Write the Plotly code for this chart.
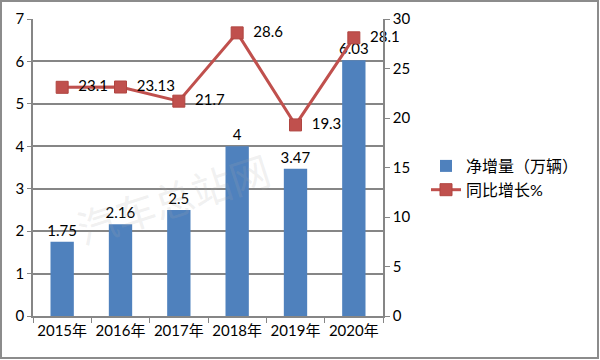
import plotly.graph_objects as go

years = ["2015年", "2016年", "2017年", "2018年", "2019年", "2020年"]
net_increase = [1.75, 2.16, 2.5, 4, 3.47, 6.03]
growth_pct = [23.1, 23.13, 21.7, 28.6, 19.3, 28.1]
net_labels = ["1.75", "2.16", "2.5", "4", "3.47", "6.03"]
growth_labels = ["23.1", "23.13", "21.7", "28.6", "19.3", "28.1"]

FONT = "Lato, 'Noto Sans CJK SC', sans-serif"
GRID = "#868686"

L, R, T, B = 33, 217, 19, 44
W, H = 600, 360
pw, ph = W - L - R, H - T - B

fig = go.Figure()
fig.add_trace(go.Bar(
    x=years, y=net_increase, name="净增量（万辆）",
    marker=dict(color="#4F81BD", line=dict(width=0)),
    text=net_labels, textposition="outside", cliponaxis=False,
    constraintext="none",
    textfont=dict(size=15, color="#000000", family=FONT),
))
fig.add_trace(go.Scatter(
    x=years, y=growth_pct, name="同比增长%", yaxis="y2",
    mode="lines+markers+text",
    line=dict(color="#C0504D", width=3),
    marker=dict(symbol="square", size=12, color="#C0504D",
                line=dict(color="#B04540", width=1)),
    text=growth_labels, texttemplate="  %{text}",
    textposition="middle right", cliponaxis=False,
    textfont=dict(size=15, color="#000000", family=FONT),
))

def px_x(p):
    return (p - L) / pw

def px_y(p):
    return (H - B - p) / ph

fig.add_shape(type="rect", xref="paper", yref="paper",
              x0=px_x(1), x1=px_x(598), y0=px_y(358), y1=px_y(1),
              line=dict(color="#8C8C8C", width=2), layer="below")

fig.add_annotation(text="汽车总站网", xref="paper", yref="paper",
                   x=px_x(280), y=px_y(198), showarrow=False, textangle=-18,
                   font=dict(size=40, color="rgba(170,170,170,0.18)",
                             family="'Noto Sans CJK SC', sans-serif"))

fig.update_layout(
    width=W, height=H,
    margin=dict(l=L, r=R, t=T, b=B, autoexpand=False),
    paper_bgcolor="white", plot_bgcolor="white",
    font=dict(family=FONT, size=15, color="#000000"),
    bargap=0.6,
    showlegend=True,
    uniformtext=dict(mode=False),
    legend=dict(x=px_x(426), y=px_y(149), xanchor="left", yanchor="top",
                font=dict(size=16, family=FONT), tracegroupgap=6,
                bgcolor="rgba(0,0,0,0)"),
    xaxis=dict(type="category", showgrid=False, showline=True, linecolor=GRID,
               linewidth=1.5, ticks="outside", tickson="boundaries", ticklen=5,
               tickcolor=GRID, tickfont=dict(size=15), tickangle=0,
               automargin=False),
    yaxis=dict(range=[0, 7], dtick=1, showgrid=True, gridcolor=GRID, gridwidth=1.5,
               showline=True, linecolor=GRID, linewidth=1.5, ticks="outside",
               ticklen=4, tickcolor=GRID, zeroline=False, tickfont=dict(size=15),
               automargin=False),
    yaxis2=dict(range=[0, 30], dtick=5, overlaying="y", side="right",
                showgrid=False, showline=True, linecolor=GRID, linewidth=1.5,
                ticks="outside", ticklen=5, tickcolor=GRID, zeroline=False,
                tickfont=dict(size=15), automargin=False),
)

fig.write_html("out.html", config={"displayModeBar": False},
               post_script="document.body.style.margin='0';document.body.style.padding='0';")
